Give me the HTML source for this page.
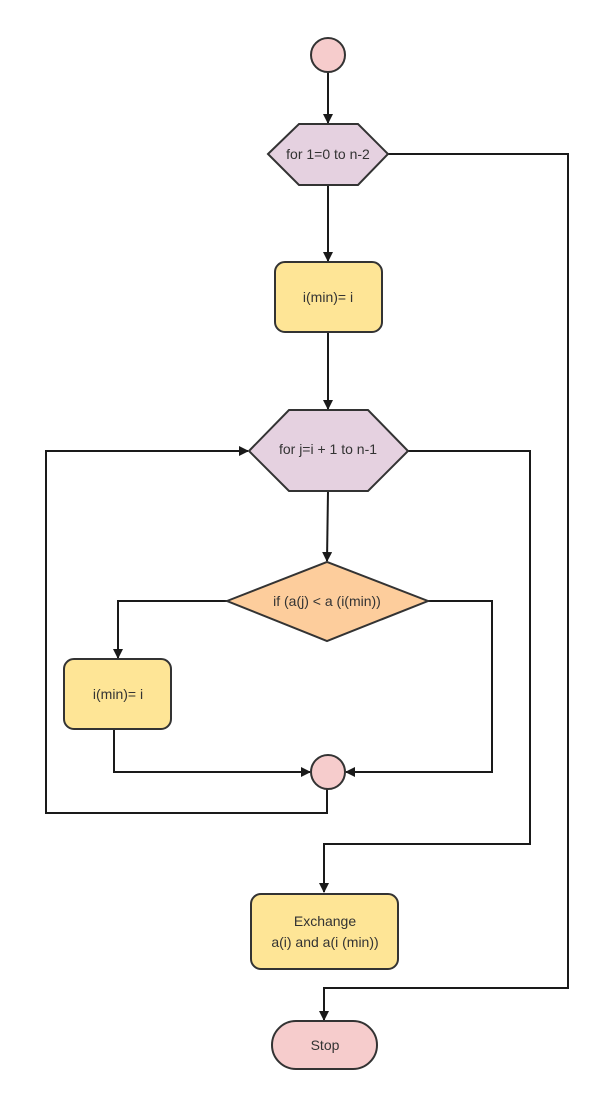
<!DOCTYPE html>
<html><head><meta charset="utf-8"><style>html,body{margin:0;padding:0;background:#fff}svg{display:block}</style></head>
<body>
<svg width="614" height="1108" viewBox="0 0 614 1108" xmlns="http://www.w3.org/2000/svg" font-family="Liberation Sans, sans-serif" font-size="14" fill="#333">
<defs><marker id="a" markerWidth="10" markerHeight="10" refX="9" refY="5" orient="auto" markerUnits="userSpaceOnUse"><path d="M0,0 L10,5 L0,10 z" fill="#1a1a1a"/></marker></defs>
<g stroke="#1a1a1a" stroke-width="2" fill="none">
<line x1="328" y1="72" x2="328" y2="123" marker-end="url(#a)"/>
<line x1="328" y1="185" x2="328" y2="261" marker-end="url(#a)"/>
<line x1="328" y1="332" x2="328" y2="409" marker-end="url(#a)"/>
<line x1="328" y1="491" x2="327" y2="561" marker-end="url(#a)"/>
<polyline points="388,154 568,154 568,988 324,988 324,1020" marker-end="url(#a)"/>
<polyline points="408,451 530,451 530,844 324,844 324,892" marker-end="url(#a)"/>
<polyline points="227,601 118,601 118,658" marker-end="url(#a)"/>
<polyline points="114,729 114,772 310,772" marker-end="url(#a)"/>
<polyline points="428,601 492,601 492,772 346,772" marker-end="url(#a)"/>
<polyline points="327,789 327,813 46,813 46,451 248,451" marker-end="url(#a)"/>
</g>
<g stroke="#333" stroke-width="2">
<circle cx="328" cy="55" r="17" fill="#f6cccc"/>
<polygon points="268,154 299,124 358,124 388,154 358,185 299,185" fill="#e5d1e0"/>
<rect x="275" y="262" width="107" height="70" rx="10" fill="#fee596"/>
<polygon points="249,451 289,410 368,410 408,451 368,491 289,491" fill="#e5d1e0"/>
<polygon points="227,601 327,562 428,601 327,641" fill="#fdcd9c"/>
<rect x="64" y="659" width="107" height="70" rx="10" fill="#fee596"/>
<circle cx="328" cy="772" r="17" fill="#f6cccc"/>
<rect x="251" y="894" width="147" height="75" rx="10" fill="#fee596"/>
<rect x="272" y="1021" width="105" height="48" rx="24" fill="#f6cccc"/>
</g>
<g text-anchor="middle">
<text x="328" y="159">for 1=0 to n-2</text>
<text x="328" y="302">i(min)= i</text>
<text x="328" y="454">for j=i + 1 to n-1</text>
<text x="327" y="606">if (a(j) &lt; a (i(min))</text>
<text x="118" y="699">i(min)= i</text>
<text x="325" y="926">Exchange</text>
<text x="325" y="947">a(i) and a(i (min))</text>
<text x="325" y="1050">Stop</text>
</g>
</svg>
</body></html>
